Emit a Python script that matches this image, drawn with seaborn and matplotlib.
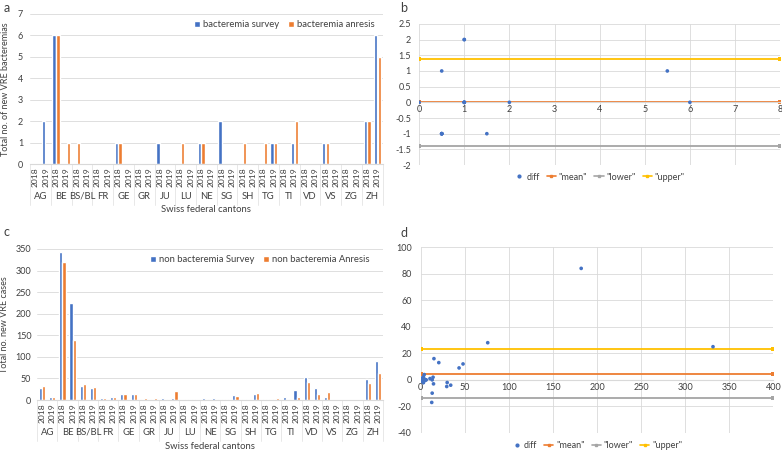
import numpy as np
import pandas as pd
import matplotlib
matplotlib.use("Agg")
import matplotlib.pyplot as plt
import matplotlib.transforms as mtransforms
from matplotlib.lines import Line2D
from matplotlib.ticker import FuncFormatter
import seaborn as sns

# ---------------- data ----------------
cantons = ["AG", "BE", "BS/BL", "FR", "GE", "GR", "JU", "LU", "NE", "SG",
           "SH", "TG", "TI", "VD", "VS", "ZG", "ZH"]
years = ["2018", "2019"]

# panel a: bacteremia (2018, 2019 for each canton)
bact_survey = [0, 2, 6, 0, 0, 0, 0, 0, 1, 0, 0, 0, 1, 0, 0, 0, 1, 0,
               2, 0, 0, 0, 0, 1, 0, 1, 0, 0, 1, 0, 0, 0, 2, 6]
bact_anresis = [0, 0, 6, 1, 1, 0, 0, 0, 1, 0, 0, 0, 0, 0, 1, 0, 1, 0,
                0, 0, 1, 0, 1, 1, 0, 2, 0, 0, 1, 0, 0, 0, 2, 5]

# panel c: non bacteremia
nonb_survey = [27, 6, 344, 224, 32, 29, 5, 6, 13, 15, 2, 2, 4, 4, 1, 2, 4, 4,
               3, 11, 2, 13, 2, 3, 6, 23, 54, 27, 8, 0, 1, 1, 48, 90]
nonb_anresis = [32, 6, 319, 140, 36, 31, 5, 6, 13, 13, 4, 4, 2, 21, 2, 1, 2, 3,
                3, 10, 1, 16, 2, 4, 2, 7, 42, 14, 18, 1, 0, 1, 39, 62]

# panel b: Bland-Altman (bacteremia)
b_avg = [0, 1, 0.5, 0.5, 0.5, 0.5, 1, 0.5, 0.5, 1.5, 5.5, 6, 2, 1, 1, 1, 1]
b_diff = [0, 2, -1, -1, 1, -1, 2, -1, -1, -1, 1, 0, 0, 0, 0, 0, 0]
b_line_x = [0, 8]
b_mean, b_lower, b_upper = 0.0, -1.38, 1.37

# panel d: Bland-Altman (non bacteremia)
d_avg = [29.5, 6, 331.5, 182, 34, 30, 5, 6, 13, 14, 3, 3, 3, 12.5, 1.5, 1.5,
         3, 3.5, 3, 10.5, 1.5, 14.5, 2, 3.5, 4, 15, 48, 20.5, 13, 0.5, 0.5, 1,
         43.5, 76]
d_diff = [-5, 0, 25, 84, -4, -2, 0, 0, 0, 2, -2, -2, 2, -17, -1, 1,
          2, 1, 0, 1, 1, -3, 0, -1, 4, 16, 12, 13, -10, -1, 1, 0,
          9, 28]
d_line_x = [0, 400]
d_mean, d_lower, d_upper = 4.5, -14.0, 23.0

BLUE = "#4472C4"
ORANGE = "#ED7D31"
GRAY = "#A5A5A5"
GOLD = "#FFC000"
GRID = "#D9D9D9"
TXT = "#404040"

sns.set_style("white")
plt.rcParams["font.family"] = ["Lato", "DejaVu Sans"]
plt.rcParams["text.color"] = TXT
plt.rcParams["axes.labelcolor"] = TXT
plt.rcParams["xtick.color"] = TXT
plt.rcParams["ytick.color"] = TXT

FS = 6.5

fig = plt.figure(figsize=(7.82, 4.51), dpi=100)

slots = [f"{c} {y}" for c in cantons for y in years]
fmt_g = FuncFormatter(lambda v, p: f"{v:g}")


def bar_panel(ax, survey, anresis, names, ylabel, ymax, ystep, width, gap,
              legend_anchor, ypad, ylabel_x):
    df = pd.DataFrame({
        "slot": slots * 2,
        "value": list(survey) + list(anresis),
        "series": [names[0]] * len(slots) + [names[1]] * len(slots),
    })
    sns.barplot(data=df, x="slot", y="value", hue="series", order=slots,
                palette=[BLUE, ORANGE], width=width, gap=gap, ax=ax,
                errorbar=None, saturation=1)
    ax.set_xlim(-0.5, len(slots) - 0.5)
    ax.set_ylim(0, ymax)
    ax.set_yticks(np.arange(0, ymax + ystep / 2, ystep))
    ax.yaxis.grid(True, color=GRID, lw=0.6)
    ax.set_axisbelow(True)
    for s in ["top", "right", "left"]:
        ax.spines[s].set_visible(False)
    ax.spines["bottom"].set_color(GRID)
    ax.spines["bottom"].set_linewidth(0.8)
    ax.set_xticks(range(len(slots)))
    ax.set_xticklabels(years * len(cantons), rotation=90, fontsize=6.1)
    ax.tick_params(axis="y", length=0, labelsize=FS)
    ax.tick_params(axis="x", length=0, pad=2.5)
    ax.tick_params(axis="y", pad=ypad)
    ax.set_xlabel("")
    ax.set_ylabel(ylabel, fontsize=FS)
    ax.yaxis.set_label_coords(ylabel_x, 0.5)
    trans = mtransforms.blended_transform_factory(ax.transData, ax.transAxes)
    for i, c in enumerate(cantons):
        ax.text(2 * i + 0.5, -0.213, c, transform=trans, ha="center",
                va="center", fontsize=FS + 0.3)
    for k in range(len(cantons) + 1):
        ax.plot([2 * k - 0.5, 2 * k - 0.5], [0, -0.27], transform=trans,
                color="#E4E4E4", lw=0.6, clip_on=False)
    ax.text(0.5, -0.305, "Swiss federal cantons", transform=ax.transAxes,
            ha="center", va="center", fontsize=FS + 0.3)
    ax.legend(loc="center right", bbox_to_anchor=legend_anchor,
              ncol=2, frameon=False, fontsize=FS + 0.3,
              handlelength=0.6, handleheight=0.6, handletextpad=0.3,
              columnspacing=1.0)
    return ax


def ba_panel(ax, avg, diff, line_x, mean, lower, upper, xlim, xstep,
             ylim, ystep, leg_y, ypad):
    ax.set_axisbelow(True)
    sns.lineplot(x=line_x, y=[lower] * 2, color=GRAY, lw=1.3, marker="s",
                 markersize=2.5, markeredgewidth=0, ax=ax, label='"lower"',
                 legend=False)
    sns.lineplot(x=line_x, y=[upper] * 2, color=GOLD, lw=1.3, marker="s",
                 markersize=2.5, markeredgewidth=0, ax=ax, label='"upper"',
                 legend=False)
    sns.lineplot(x=line_x, y=[mean] * 2, color=ORANGE, lw=1.3, marker="s",
                 markersize=2.5, markeredgewidth=0, ax=ax, label='"mean"',
                 legend=False)
    sns.scatterplot(x=avg, y=diff, color=BLUE, s=7, edgecolor="none", ax=ax,
                    legend=False, zorder=5)
    ax.set_xlim(*xlim)
    ax.set_ylim(*ylim)
    ax.set_xticks(np.arange(xlim[0], xlim[1] + xstep / 2, xstep))
    ax.set_yticks(np.arange(ylim[0], ylim[1] + ystep / 2, ystep))
    ax.xaxis.set_major_formatter(fmt_g)
    ax.yaxis.set_major_formatter(fmt_g)
    ax.grid(True, color=GRID, lw=0.6)
    for s in ["top", "right", "left"]:
        ax.spines[s].set_visible(False)
    ax.spines["bottom"].set_position(("data", 0))
    ax.spines["bottom"].set_color(GRID)
    ax.tick_params(axis="both", length=0, labelsize=FS, pad=2)
    ax.tick_params(axis="y", pad=ypad)
    handles = [
        Line2D([], [], ls="none", marker="o", markersize=2, color=BLUE),
        Line2D([], [], color=ORANGE, lw=1.2, marker="s", markersize=2),
        Line2D([], [], color=GRAY, lw=1.2, marker="s", markersize=2),
        Line2D([], [], color=GOLD, lw=1.2, marker="s", markersize=2),
    ]
    labels = ["diff", '"mean"', '"lower"', '"upper"']
    ax.legend(handles, labels, loc="center", bbox_to_anchor=(0.5, leg_y),
              ncol=4, frameon=False, fontsize=FS, handlelength=1.0,
              handletextpad=0.3, columnspacing=0.8)


# panel a
ax_a = fig.add_axes([0.0384, 0.636, 0.451, 0.333])
bar_panel(ax_a, bact_survey, bact_anresis,
          ["bacteremia survey", "bacteremia anresis"],
          "Total no. of new VRE bacteremias", 7, 1, 0.72, 0.1, (1.0, 0.93),
          5, -0.058)

# panel c
ax_c = fig.add_axes([0.0473, 0.113, 0.4425, 0.335])
bar_panel(ax_c, nonb_survey, nonb_anresis,
          ["non bacteremia Survey", "non bacteremia Anresis"],
          "Total no. new VRE cases", 350, 50, 0.62, 0.0, (0.985, 0.93),
          4, -0.08)

# panel b
ax_b = fig.add_axes([0.536, 0.634, 0.4616, 0.313])
ba_panel(ax_b, b_avg, b_diff, b_line_x, b_mean, b_lower, b_upper,
         (0, 8), 1, (-2, 2.5), 0.5, -0.085, 6)

# panel d
ax_d = fig.add_axes([0.538, 0.04, 0.451, 0.412])
ba_panel(ax_d, d_avg, d_diff, d_line_x, d_mean, d_lower, d_upper,
         (0, 400), 50, (-40, 100), 20, -0.07, 6.5)

# panel letters
fig.text(0.004, 0.995, "a", fontsize=9, va="top")
fig.text(0.512, 0.995, "b", fontsize=9, va="top")
fig.text(0.004, 0.5, "c", fontsize=9, va="top")
fig.text(0.512, 0.497, "d", fontsize=9, va="top")

fig.savefig("out.png", dpi=100, facecolor="white")
